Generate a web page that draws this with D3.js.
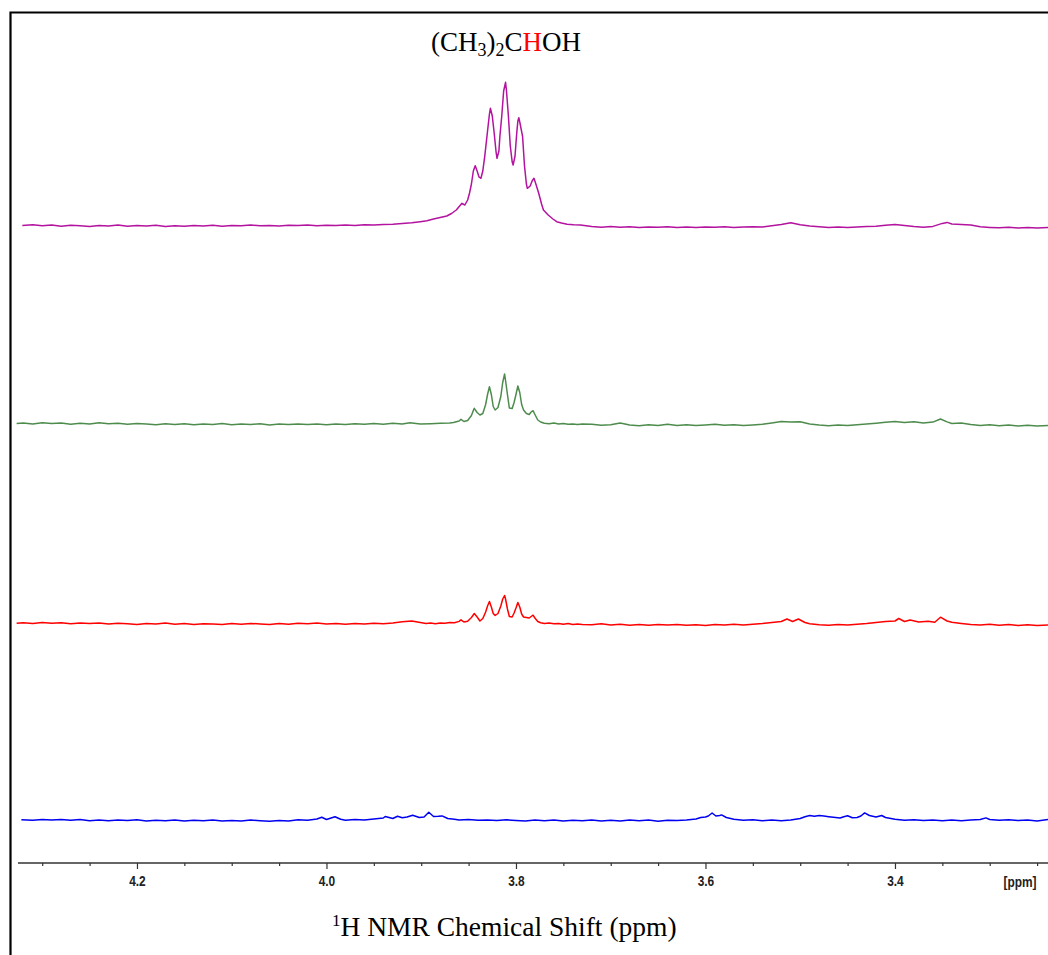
<!DOCTYPE html>
<html><head><meta charset="utf-8">
<script src="https://cdn.jsdelivr.net/npm/d3@7/dist/d3.min.js"></script>
<style>html,body{margin:0;padding:0;background:#fff;}svg{display:block;}</style>
</head><body>
<svg id="chart" width="1048" height="955"></svg>
<script>
// ---- data: [ppm, intensity (a.u.)] ----
const magenta = [
[4.321,0.5],[4.31,1.2],[4.30,0.2],[4.29,1.0],[4.28,-0.2],[4.27,0.8],[4.26,0.3],[4.25,-0.4],[4.24,0.6],[4.23,0.1],
[4.22,0.9],[4.21,-0.3],[4.20,0.4],[4.19,0.0],[4.18,0.7],[4.17,-0.4],[4.16,0.3],[4.15,-0.2],[4.14,0.6],[4.13,0.1],
[4.12,0.8],[4.11,-0.3],[4.10,0.5],[4.09,0.2],[4.08,1.0],[4.07,0.3],[4.06,0.6],[4.05,-0.1],[4.04,0.7],[4.03,0.4],
[4.02,0.9],[4.01,0.2],[4.00,0.8],[3.99,0.5],[3.98,1.1],[3.97,0.6],[3.96,1.3],[3.95,1.0],[3.94,1.6],[3.93,1.8],
[3.92,2.6],[3.91,3.2],[3.901,4.3],[3.894,5.2],[3.887,7],[3.880,8.5],[3.873,10],[3.868,12.5],[3.863,16],[3.857,22.7],[3.854,21],[3.851,26],[3.849,33],[3.847,42],
[3.845,55],[3.843,60.3],[3.841,55],[3.839,49],[3.837,47.7],[3.835,55],[3.833,69.3],[3.830,95],[3.828,112],[3.827,117.7],[3.825,110],
[3.823,93],[3.821,74],[3.820,67.7],[3.818,75],[3.817,89.3],[3.815,110],[3.813,135],[3.811,143.7],[3.810,135],[3.808,110],[3.806,80],
[3.804,64],[3.803,61],[3.801,70],[3.800,83],[3.799,95],[3.798,105],[3.797,108.3],[3.796,104],[3.793,89.3],[3.791,60],[3.789,42],[3.788,37.7],[3.785,40],
[3.783,45],[3.781,47.7],[3.779,42],[3.776,32.7],[3.773,22],[3.771,16],[3.766,11],[3.761,7],[3.757,4.3],[3.752,3.0],[3.746,1.7],[3.739,1.2],[3.732,1.0],
[3.72,-0.5],[3.71,-1.2],[3.70,-0.6],[3.69,-1.3],[3.68,-0.8],[3.67,-1.5],[3.66,-0.9],[3.65,-1.2],[3.64,-0.7],[3.63,-1.4],
[3.62,-1.0],[3.61,-1.6],[3.60,-0.9],[3.59,-1.3],[3.58,-0.8],[3.57,-1.5],[3.56,-1.1],[3.55,-0.7],[3.54,-0.9],[3.53,0.3],
[3.52,1.6],[3.51,3.2],[3.50,1.2],[3.49,0.0],[3.48,-0.8],[3.47,-1.4],[3.46,-1.0],[3.45,-1.6],[3.44,-1.1],[3.43,-0.6],
[3.42,-0.2],[3.41,0.8],[3.40,1.6],[3.39,0.4],[3.38,-0.6],[3.37,-1.2],[3.36,-0.4],[3.35,2.6],[3.345,3.6],[3.34,2.0],
[3.33,1.5],[3.32,0.9],[3.31,-0.8],[3.30,-1.4],[3.29,-1.8],[3.28,-1.3],[3.27,-2.0],[3.26,-1.5],[3.25,-2.1],[3.2385,-1.6]
];
const green = [
[4.327,1.0],[4.32,1.5],[4.31,0.6],[4.30,1.8],[4.29,0.9],[4.28,1.4],[4.27,0.3],[4.26,1.2],[4.25,0.5],[4.24,1.7],[4.23,0.8],
[4.22,1.3],[4.21,0.2],[4.20,0.9],[4.19,0.4],[4.18,-0.2],[4.17,0.7],[4.16,0.1],[4.15,0.8],[4.14,-0.3],[4.13,0.6],
[4.12,0.0],[4.11,0.9],[4.10,-0.2],[4.09,0.5],[4.08,0.1],[4.07,0.7],[4.06,-0.4],[4.05,0.4],[4.04,-0.1],[4.03,0.6],
[4.02,0.0],[4.01,0.5],[4.00,-0.2],[3.99,0.6],[3.98,0.1],[3.97,0.8],[3.96,0.3],[3.95,0.9],[3.94,0.2],[3.93,1.2],
[3.92,0.6],[3.912,1.8],[3.901,0.5],[3.890,0.8],[3.880,1.2],[3.870,1.5],[3.866,2.0],[3.860,3.5],[3.858,5.2],[3.855,3.0],
[3.851,4.0],[3.847,9],[3.845,14],[3.844,16.2],[3.841,12],[3.838,9.5],[3.835,11],[3.832,20],[3.830,30],[3.828,37.8],
[3.826,30],[3.824,18],[3.822,14.5],[3.819,17],[3.816,28],[3.814,42],[3.812,50.5],[3.811,44],[3.809,30],[3.807,16.5],
[3.804,16],[3.802,22],[3.800,30],[3.798,38.5],[3.796,32],[3.794,20],[3.792,14.5],[3.789,11],[3.786,10],[3.784,12.5],
[3.782,13.8],[3.780,10],[3.777,4.5],[3.774,2.5],[3.770,1.2],[3.765,0.8],[3.760,1.4],[3.755,0.5],[3.750,0.9],[3.745,0.2],
[3.740,0.6],[3.735,-0.1],[3.73,0.5],
[3.72,0.2],[3.71,-0.8],[3.70,-0.2],[3.69,1.6],[3.68,-0.5],[3.67,-1.2],[3.66,-0.3],[3.65,-1.0],[3.64,0.2],[3.63,-0.9],
[3.62,-0.2],[3.61,-1.1],[3.60,-0.4],[3.59,0.3],[3.58,-0.8],[3.57,-0.2],[3.56,-1.0],[3.55,-0.5],[3.54,0.2],[3.53,1.5],
[3.52,3.0],[3.51,2.4],[3.50,2.8],[3.49,0.5],[3.48,-0.6],[3.47,-1.2],[3.46,-0.5],[3.45,-1.0],[3.44,-0.3],[3.43,0.4],
[3.42,1.2],[3.41,2.2],[3.40,3.0],[3.39,2.0],[3.38,2.8],[3.37,1.5],[3.36,2.4],[3.352,5.5],[3.345,2.6],[3.34,1.0],
[3.33,1.6],[3.32,0.0],[3.31,-0.9],[3.30,-0.3],[3.29,-1.2],[3.28,-0.6],[3.27,-1.4],[3.26,-0.8],[3.25,-1.6],[3.2385,-1.0]
];
const red = [
[4.327,0.8],[4.32,1.2],[4.31,0.5],[4.30,1.6],[4.29,0.8],[4.28,1.3],[4.27,0.2],[4.26,0.9],[4.25,0.4],[4.24,1.1],[4.23,0.0],
[4.22,0.8],[4.21,0.3],[4.20,-0.5],[4.19,0.6],[4.18,0.1],[4.17,0.9],[4.16,-0.2],[4.15,0.5],[4.14,-0.4],[4.13,0.3],
[4.12,0.0],[4.11,-0.6],[4.10,0.4],[4.09,-0.3],[4.08,0.6],[4.07,0.1],[4.06,-0.4],[4.05,0.5],[4.04,-0.2],[4.03,0.7],
[4.02,0.2],[4.01,0.9],[4.00,0.1],[3.99,0.6],[3.98,-0.2],[3.97,0.5],[3.96,0.0],[3.95,0.8],[3.94,0.3],[3.93,0.9],
[3.92,2.2],[3.91,3.0],[3.901,1.5],[3.895,0.6],[3.890,0.9],[3.885,0.3],[3.880,1.0],[3.875,0.8],[3.870,1.4],[3.865,1.2],
[3.860,2.6],[3.858,4.2],[3.855,2.0],[3.851,2.8],[3.847,6.5],[3.844,10.5],[3.841,7.0],[3.838,3.0],[3.835,5.5],[3.832,12],
[3.830,18],[3.828,22.5],[3.826,17],[3.824,10.5],[3.822,8.5],[3.819,10.5],[3.816,18],[3.814,25],[3.812,28.5],[3.811,25],
[3.809,15],[3.807,7.5],[3.804,7.0],[3.802,11],[3.800,16],[3.798,21.5],[3.796,17],[3.794,10],[3.792,7.0],[3.789,6.5],
[3.786,6.0],[3.784,7.5],[3.782,8.8],[3.780,6.0],[3.777,2.5],[3.774,1.2],[3.770,0.5],[3.765,1.0],[3.760,0.2],[3.755,0.6],
[3.750,-0.2],[3.745,0.4],[3.740,-0.5],[3.735,0.1],[3.73,-0.4],
[3.72,-0.8],[3.71,0.2],[3.70,-1.0],[3.69,-0.3],[3.68,-1.2],[3.67,-0.5],[3.66,-1.3],[3.65,-0.6],[3.64,-1.1],[3.63,-0.4],
[3.62,-1.2],[3.61,-0.7],[3.60,-1.4],[3.59,-0.6],[3.58,-1.1],[3.57,-0.3],[3.56,-0.9],[3.55,-0.2],[3.54,0.4],[3.53,1.4],
[3.52,2.5],[3.514,5.0],[3.508,2.5],[3.502,5.0],[3.495,1.5],[3.49,0.3],[3.48,-0.8],[3.47,-1.2],[3.46,-0.4],[3.45,-1.0],
[3.44,-0.2],[3.43,0.5],[3.42,1.5],[3.41,2.4],[3.40,3.0],[3.396,5.5],[3.39,2.5],[3.384,4.0],[3.375,2.0],[3.365,2.8],
[3.358,1.8],[3.352,6.8],[3.345,3.0],[3.34,1.8],[3.33,0.6],[3.32,-0.4],[3.31,-1.0],[3.30,-0.3],[3.29,-1.3],[3.28,-0.6],
[3.27,-1.5],[3.26,-0.8],[3.25,-1.4],[3.2385,-0.9]
];
const blue = [
[4.322,0.8],[4.31,0.2],[4.30,1.0],[4.29,0.4],[4.28,1.1],[4.27,0.3],[4.26,0.9],[4.25,-0.2],[4.24,0.5],[4.23,-0.3],
[4.22,0.6],[4.21,0.0],[4.20,0.7],[4.19,-0.4],[4.18,0.3],[4.17,-0.2],[4.16,0.5],[4.15,-0.5],[4.14,0.2],[4.13,-0.3],
[4.12,0.6],[4.11,-0.4],[4.10,0.1],[4.09,-0.6],[4.08,0.4],[4.07,-0.2],[4.06,-0.7],[4.05,0.1],[4.04,-0.4],[4.03,0.8],
[4.02,0.2],[4.01,1.5],[4.005,3.2],[4.00,1.0],[3.991,3.8],[3.985,1.2],[3.98,0.3],[3.97,0.9],[3.96,0.5],[3.95,1.4],
[3.94,2.5],[3.938,4.0],[3.93,2.0],[3.925,4.2],[3.92,2.8],[3.915,3.5],[3.909,5.2],[3.902,3.0],[3.897,3.5],[3.892,8.2],
[3.887,4.0],[3.882,4.2],[3.878,4.6],[3.872,2.0],[3.865,1.2],[3.86,0.5],[3.85,0.9],[3.84,0.2],[3.83,0.6],[3.82,0.0],
[3.81,0.7],[3.80,0.1],[3.79,-0.5],[3.78,0.4],[3.77,-0.3],[3.76,0.5],[3.75,-0.6],[3.74,0.2],[3.73,-0.2],[3.72,0.5],
[3.71,-0.4],[3.70,0.3],[3.69,-0.5],[3.68,0.4],[3.67,-0.2],[3.66,0.6],[3.65,-0.8],[3.64,0.3],[3.63,0.0],[3.62,0.5],
[3.61,1.5],[3.605,3.0],[3.60,3.5],[3.597,4.5],[3.593,7.5],[3.589,4.5],[3.585,5.0],[3.583,5.6],[3.578,3.0],[3.57,1.2],
[3.56,0.3],[3.55,0.8],[3.54,-0.2],[3.53,0.4],[3.52,-0.3],[3.51,0.6],[3.50,2.0],[3.495,3.8],[3.49,5.0],[3.485,4.2],
[3.48,5.0],[3.475,4.5],[3.47,3.8],[3.465,3.2],[3.458,2.5],[3.454,3.8],[3.45,4.8],[3.445,2.8],[3.44,3.0],[3.436,4.5],
[3.432,7.6],[3.427,5.0],[3.42,3.5],[3.414,5.0],[3.41,3.0],[3.40,1.2],[3.39,0.3],[3.38,0.8],[3.37,0.0],[3.36,0.6],
[3.35,-0.3],[3.34,0.4],[3.33,-0.2],[3.32,0.5],[3.31,1.0],[3.304,2.6],[3.30,1.0],[3.29,0.2],[3.28,0.8],[3.27,-0.1],
[3.26,0.5],[3.25,-0.4],[3.2385,0.9]
];
const seriesNames = ["magenta", "green", "red", "blue"];
const seriesData = [magenta, green, red, blue];
const seriesOffsets = [636, 437.5, 238, 41.5];   // vertical stacking of the spectra (a.u.)
const seriesColors = ["#b3139f", "#4e8c4e", "#ff0000", "#0000f0"];
const majorTicks = [4.2, 4.0, 3.8, 3.6, 3.4];
const minorTicks = [4.3, 4.25, 4.15, 4.1, 4.05, 3.95, 3.9, 3.85, 3.75, 3.7, 3.65, 3.55, 3.5, 3.45, 3.35, 3.3, 3.25];
const xDomain = [4.334, 3.2385];
const yDomain = [0, 850];

// ---- drawing ----
const svg = d3.select("#chart");
const x = d3.scaleLinear().domain(xDomain).range([10, 1048]);
const y = d3.scaleLinear().domain(yDomain).range([862, 12]);

// frame (left + top)
svg.append("path").attr("d", "M10.5,955 L10.5,12.5 L1048,12.5")
  .attr("fill", "none").attr("stroke", "#000").attr("stroke-width", 2.2);

// spectra
seriesData.forEach((data, i) => {
  const line = d3.line().x(d => x(d[0])).y(d => y(seriesOffsets[i] + d[1]));
  svg.append("path").datum(data)
    .attr("class", "spec " + seriesNames[i])
    .attr("d", line)
    .attr("fill", "none")
    .attr("stroke", seriesColors[i])
    .attr("stroke-width", 1.5)
    .attr("stroke-linejoin", "round");
});

// axis
const axisY = 863;
svg.append("line").attr("x1", 18).attr("x2", 1048).attr("y1", axisY).attr("y2", axisY)
  .attr("stroke", "#333").attr("stroke-width", 1.5);
const gMinor = svg.append("g").attr("transform", `translate(0,${axisY})`)
  .call(d3.axisBottom(x).tickValues(minorTicks).tickSize(3).tickFormat(""));
const gMajor = svg.append("g").attr("transform", `translate(0,${axisY})`)
  .call(d3.axisBottom(x).tickValues(majorTicks).tickSize(6).tickPadding(7).tickFormat(d3.format(".1f")));
[gMinor, gMajor].forEach(g => {
  g.select(".domain").remove();
  g.selectAll(".tick line").attr("stroke", "#333").attr("stroke-width", 1.2);
});
const tickFont = "'Liberation Sans', Arial, sans-serif";
gMajor.selectAll(".tick text")
  .attr("fill", "#222")
  .attr("transform", "scale(0.85,1)")
  .style("font-family", tickFont)
  .style("font-size", "14px").style("font-weight", "bold");
svg.append("text").attr("transform", "translate(1020,887) scale(0.85,1)").attr("text-anchor", "middle")
  .attr("fill", "#222")
  .style("font-family", tickFont)
  .style("font-size", "14px").style("font-weight", "bold").text("[ppm]");

// title (CH3)2CHOH
const serif = "'Liberation Serif', 'Times New Roman', serif";
const t = svg.append("text").attr("x", 431).attr("y", 51)
  .style("font-family", serif).style("font-size", "27px").attr("fill", "#000");
t.append("tspan").text("(CH");
t.append("tspan").attr("dy", 5).style("font-size", "18px").text("3");
t.append("tspan").attr("dy", -5).text(")");
t.append("tspan").attr("dy", 5).style("font-size", "18px").text("2");
t.append("tspan").attr("dy", -5).text("C");
t.append("tspan").attr("fill", "#ff0000").text("H");
t.append("tspan").text("OH");

// x-axis title
const xl = svg.append("text").attr("x", 332).attr("y", 936)
  .style("font-family", serif).style("font-size", "27.5px").attr("fill", "#000");
xl.append("tspan").attr("dy", -10).style("font-size", "17px").text("1");
xl.append("tspan").attr("dy", 10).text("H NMR Chemical Shift (ppm)");
</script>
</body></html>
